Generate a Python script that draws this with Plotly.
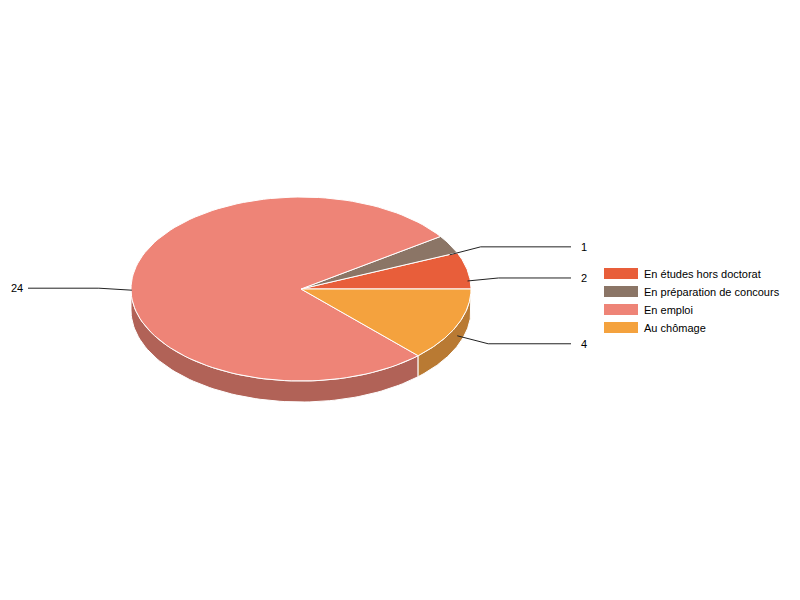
import numpy as np
import plotly.graph_objects as go

# data
labels = ["En études hors doctorat", "En préparation de concours", "En emploi", "Au chômage"]
values = [2, 1, 24, 4]
colors = ["#e85e3a", "#8b7566", "#ee8477", "#f4a23e"]
side_colors = ["#a4422a", "#625248", "#b16257", "#b97a33"]

# pie geometry (pixels), 3D look
cx, cy, rx, ry, depth = 301, 289, 170, 92, 21
# small vertical nudges for the value labels so they don't collide
label_nudge = [-3, -8, -2, 8]

total = sum(values)
edges = np.concatenate([[0], np.cumsum(values) / total * 360])


def ellipse(t_deg, dy=0):
    t = np.radians(t_deg)
    return cx + rx * np.cos(t), cy - ry * np.sin(t) + dy


fig = go.Figure()

# side walls first (only the front half of the pie is visible)
for i in range(len(values)):
    a, b = max(edges[i], 180), min(edges[i + 1], 360)
    if b <= a:
        continue
    t = np.linspace(a, b, 80)
    x1, y1 = ellipse(t)
    x2, y2 = ellipse(t[::-1], depth)
    fig.add_trace(go.Scatter(x=np.concatenate([x1, x2, x1[:1]]), y=np.concatenate([y1, y2, y1[:1]]),
                             fill="toself", fillcolor=side_colors[i], mode="lines",
                             line=dict(color="white", width=1), hoverinfo="skip", showlegend=False))

# top faces
for i in range(len(values)):
    t = np.linspace(edges[i], edges[i + 1], 120)
    x, y = ellipse(t)
    fig.add_trace(go.Scatter(x=np.concatenate([[cx], x, [cx]]), y=np.concatenate([[cy], y, [cy]]),
                             fill="toself", fillcolor=colors[i], mode="lines",
                             line=dict(color="white", width=1), hoverinfo="skip", showlegend=False))

# value labels with leader lines
annotations = []
for i, v in enumerate(values):
    mid = (edges[i] + edges[i + 1]) / 2
    ax, ay = ellipse(mid, depth / 2)
    ly = ay + label_nudge[i]
    right = ax >= cx
    elbow = ax + 31 if right else ax - 33
    end = 571 if right else 28
    fig.add_trace(go.Scatter(x=[ax, elbow, end], y=[ay, ly, ly], mode="lines",
                             line=dict(color="#222222", width=1), hoverinfo="skip", showlegend=False))
    annotations.append(dict(x=579 if right else 25, y=ly, text=str(v), showarrow=False,
                            xanchor="left" if right else "right", yanchor="middle",
                            font=dict(size=11, color="#000000")))

# legend drawn by hand to get the wide swatches
shapes = []
for i, lab in enumerate(labels):
    yy = 273.5 + i * 18
    shapes.append(dict(type="rect", x0=604, x1=638, y0=yy - 5.5, y1=yy + 5.5,
                       fillcolor=colors[i], line=dict(width=0)))
    annotations.append(dict(x=642, y=yy, text=lab, showarrow=False, xanchor="left",
                            yanchor="middle", font=dict(size=11, color="#000000")))

# the page body has an 8px margin, so shift the pixel axes to match screen coordinates
fig.update_layout(
    width=800, height=600,
    margin=dict(l=0, r=0, t=0, b=0),
    paper_bgcolor="white", plot_bgcolor="white",
    font=dict(family="Arial, Liberation Sans, sans-serif"),
    xaxis=dict(range=[8, 808], visible=False, fixedrange=True),
    yaxis=dict(range=[608, 8], visible=False, fixedrange=True),
    shapes=shapes,
    annotations=annotations,
    showlegend=False,
)

fig.write_html("out.html")
